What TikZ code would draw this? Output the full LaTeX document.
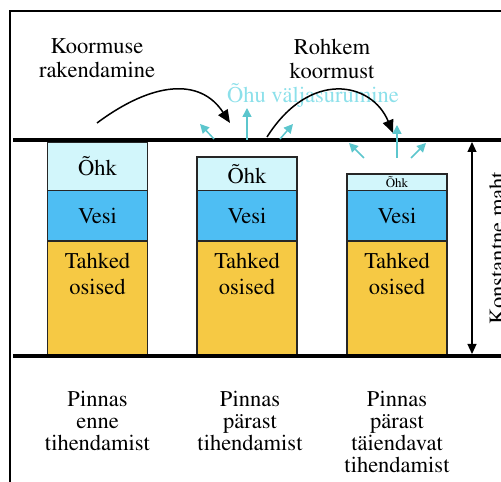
\documentclass[tikz,border=0pt]{standalone}
\usepackage[T1]{fontenc}
\renewcommand{\rmdefault}{ptm}
\usetikzlibrary{positioning,arrows.meta}
\definecolor{airblue}{RGB}{210,246,251}
\definecolor{waterblue}{RGB}{78,190,243}
\definecolor{soilyellow}{RGB}{246,201,68}
\definecolor{aircyan}{RGB}{92,198,205}
\definecolor{airtext}{RGB}{140,224,234}
\begin{document}
\begin{tikzpicture}[x=1pt,y=1pt,
layer/.style={draw=black!85, line width=1.2pt, minimum width=100pt, inner sep=0pt, outer sep=0pt, font=\rmfamily\fontsize{22.5}{26}\selectfont},
air/.style={layer, fill=airblue},
water/.style={layer, fill=waterblue, minimum height=50.5pt},
soil/.style={layer, fill=soilyellow, minimum height=115pt},
txt/.style={inner sep=0pt, align=center, font=\rmfamily\fontsize{22.5}{22}\selectfont},
ground/.style={line width=4pt},
load/.style={line width=1.5pt, -{Triangle[length=13pt,width=11pt]}},
push/.style={draw=aircyan, line width=1.5pt, -{Triangle[length=9pt,width=9pt]}}
]
\clip (0,0) rectangle (501,482);
%Frame
\draw[line width=1.2pt] (10,-5) |- (510,471);
%Soil columns
\node[water]      (v1)     at (97.5,266.25)                  {Vesi};
\node[air, minimum height=48.5pt]  (a1)  [above=0pt of v1]   {Õhk};
\node[soil]       (s1)     [below=0pt of v1]                 {};
\node[water]      (v2)     at (247,266.25)                   {Vesi};
\node[air, minimum height=33.5pt]  (a2)  [above=0pt of v2]   {Õhk};
\node[soil]       (s2)     [below=0pt of v2]                 {};
\node[water]      (v3)     at (397,266.25)                   {Vesi};
\node[air, minimum height=16.5pt, font=\rmfamily\fontsize{13}{13}\selectfont]  (a3)  [above=0pt of v3]   {Õhk};
\node[soil]       (s3)     [below=0pt of v3]                 {};
\foreach \i in {1,2,3}
  \node[txt, font=\rmfamily\fontsize{22.5}{26}\selectfont, anchor=north] (t\i) [below=12pt of s\i.north] {Tahked\\osised};
%Ground lines
\coordinate (tl) at (13,342);
\coordinate (tr) at (505,342);
\coordinate (bl) at (13,126);
\coordinate (br) at (505,126);
\draw[ground] (tl) -- (tr);
\draw[ground] (bl) -- (br);
%Constant volume
\coordinate (dt) at (472,342);
\coordinate (db) at (472,126);
\draw[line width=1.2pt, {Triangle[length=10pt,width=9pt]}-{Triangle[length=10pt,width=9pt]}, shorten <=2pt, shorten >=2pt] (dt) -- (db);
\node[txt, rotate=90] (vol) at (497,234) {Konstantne maht};
%Loads
\node[txt, font=\rmfamily\fontsize{22.5}{24}\selectfont] (k1) at (97,423.5)  {Koormuse\\rakendamine};
\node[txt, font=\rmfamily\fontsize{22.5}{24}\selectfont] (k2) at (332,423.5) {Rohkem\\koormust};
\node[txt, text=airtext] (ohu) at (313,387) {Õhu väljasurumine};
\coordinate (l1s) at (97,359);
\coordinate (l1e) at (230,359);
\coordinate (l2s) at (267,345);
\coordinate (l2e) at (393,349);
\draw[load] (l1s) .. controls (152,400) and (200,405) .. (l1e);
\draw[load] (l2s) .. controls (310,413) and (372,400) .. (l2e);
%Air out
\foreach \x/\y/\dx/\dy in {247/342/0/32, 214/343/-14/15, 280/343/13/15,
                           397/324/0/33, 364/324/-15/15, 411/324/15/15}
  \draw[push] (\x,\y) -- ++(\dx,\dy);
%Captions
\node[txt, anchor=north] (p1) [below=35pt of s1.south] {Pinnas\\enne\\tihendamist};
\node[txt, anchor=north] (p2) [below=35pt of s2.south, xshift=3pt] {Pinnas\\pärast\\tihendamist};
\node[txt, anchor=north] (p3) [below=35pt of s3.south] {Pinnas\\pärast\\täiendavat\\tihendamist};
\end{tikzpicture}
\end{document}
